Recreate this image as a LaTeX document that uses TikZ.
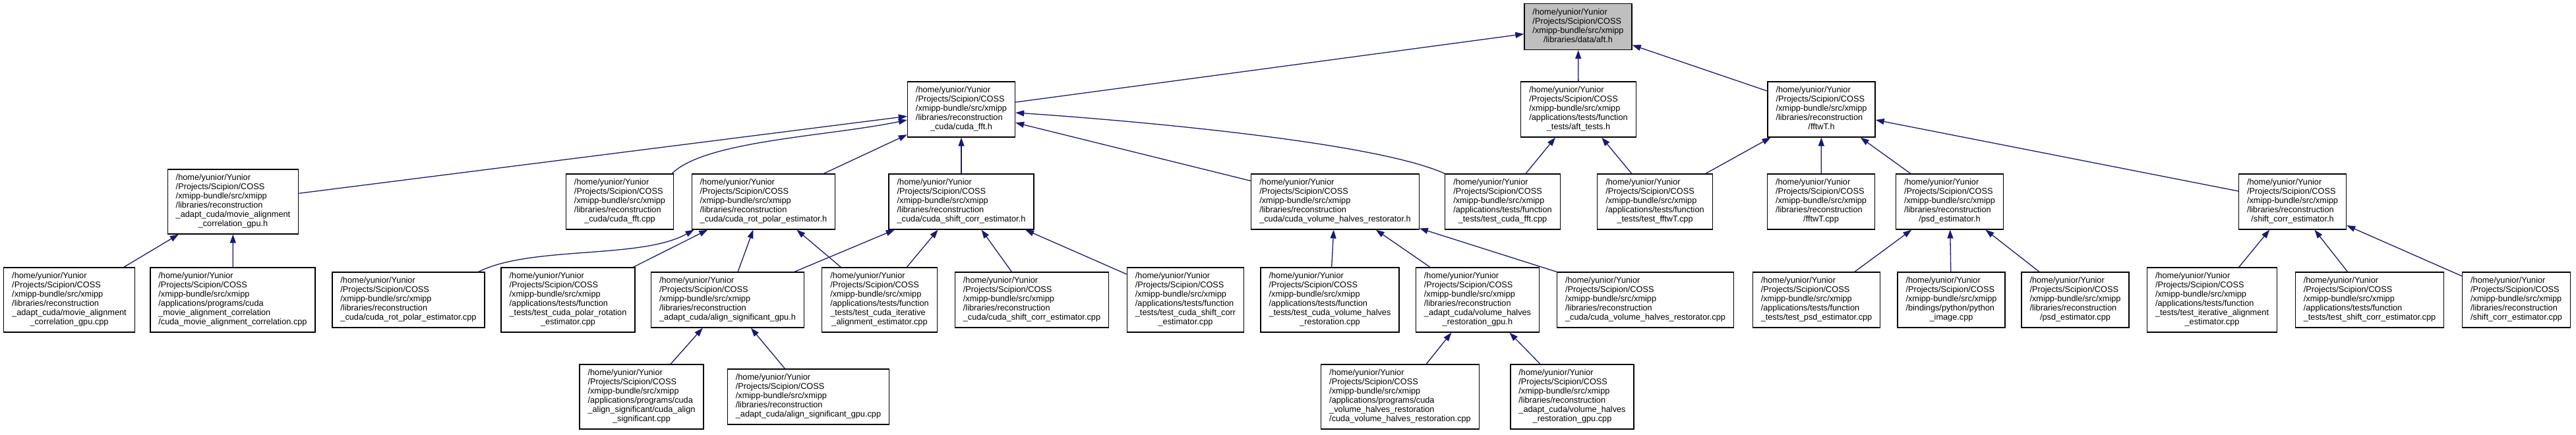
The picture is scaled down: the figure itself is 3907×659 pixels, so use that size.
\documentclass[tikz,border=0pt]{standalone}
\usepackage{fontspec}
\setmainfont{Liberation Sans}
\usetikzlibrary{arrows.meta}
\definecolor{EdgeNavy}{HTML}{191970}
\definecolor{RootGrey}{HTML}{BFBFBF}
\newcommand{\xroot}{/home/yunior/Yunior\\/Projects/Scipion/COSS\\/xmipp-bundle/src/xmipp}
\newcommand{\lastln}[1]{\multicolumn{1}{@{}c@{}}{#1}}
\newcommand{\fpath}[1]{\begin{tabular}{@{}l@{}}\xroot\\#1\end{tabular}}
\tikzset{
  filebox/.style={
    rectangle, draw=black, line width=1.3pt, fill=white,
    inner xsep=12.5pt, inner ysep=7pt,
    font=\fontsize{12.74pt}{14pt}\selectfont
  },
  rootbox/.style={filebox, fill=RootGrey},
  incl/.style={
    -{Triangle[length=13pt, width=9pt]},
    draw=EdgeNavy, line width=1.3pt
  }
}

\begin{document}
\begin{tikzpicture}[x=1pt, y=-1pt]

\useasboundingbox (0,0) rectangle (3907,659);

% ── Root header ───────────────────────────────────────────────────────────────

\node[rootbox] (aft) at (2393.5,40.5) {\fpath{\lastln{/libraries/data/aft.h}}};

% ── Direct includers ──────────────────────────────────────────────────────────

\node[filebox] (cffth) at (1458,166) {\fpath{/libraries/reconstruction\\\lastln{\_cuda/cuda\_fft.h}}};
\node[filebox] (afttests) at (2394,166) {\fpath{/applications/tests/function\\\lastln{\_tests/aft\_tests.h}}};
\node[filebox] (fftwth) at (2762.5,166) {\fpath{/libraries/reconstruction\\\lastln{/fftwT.h}}};

% ── Third row ─────────────────────────────────────────────────────────────────

\node[filebox] (moviegpuh) at (353.5,306) {\fpath{/libraries/reconstruction\\\_adapt\_cuda/movie\_alignment\\\lastln{\_correlation\_gpu.h}}};
\node[filebox] (cfftcpp) at (940,306) {\fpath{/libraries/reconstruction\\\lastln{\_cuda/cuda\_fft.cpp}}};
\node[filebox] (crotpolarh) at (1158,306) {\fpath{/libraries/reconstruction\\\lastln{\_cuda/cuda\_rot\_polar\_estimator.h}}};
\node[filebox] (cshifth) at (1458,306) {\fpath{/libraries/reconstruction\\\lastln{\_cuda/cuda\_shift\_corr\_estimator.h}}};
\node[filebox] (cvolh) at (2025,306) {\fpath{/libraries/reconstruction\\\lastln{\_cuda/cuda\_volume\_halves\_restorator.h}}};
\node[filebox] (tcfft) at (2279,306) {\fpath{/applications/tests/function\\\lastln{\_tests/test\_cuda\_fft.cpp}}};
\node[filebox] (tfftwt) at (2510,306) {\fpath{/applications/tests/function\\\lastln{\_tests/test\_fftwT.cpp}}};
\node[filebox] (fftwtcpp) at (2762,306) {\fpath{/libraries/reconstruction\\\lastln{/fftwT.cpp}}};
\node[filebox] (psdh) at (2957,306) {\fpath{/libraries/reconstruction\\\lastln{/psd\_estimator.h}}};
\node[filebox] (shifth) at (3477,306) {\fpath{/libraries/reconstruction\\\lastln{/shift\_corr\_estimator.h}}};

% ── Fourth row ────────────────────────────────────────────────────────────────

\node[filebox] (moviegpucpp) at (105,455) {\fpath{/libraries/reconstruction\\\_adapt\_cuda/movie\_alignment\\\lastln{\_correlation\_gpu.cpp}}};
\node[filebox] (cmoviecpp) at (353,455) {\fpath{/applications/programs/cuda\\\_movie\_alignment\_correlation\\\lastln{/cuda\_movie\_alignment\_correlation.cpp}}};
\node[filebox] (crotpolarcpp) at (619.5,455) {\fpath{/libraries/reconstruction\\\lastln{\_cuda/cuda\_rot\_polar\_estimator.cpp}}};
\node[filebox] (tcpolarrot) at (861.5,455) {\fpath{/applications/tests/function\\\_tests/test\_cuda\_polar\_rotation\\\lastln{\_estimator.cpp}}};
\node[filebox] (aligngpuh) at (1103.5,455) {\fpath{/libraries/reconstruction\\\lastln{\_adapt\_cuda/align\_significant\_gpu.h}}};
\node[filebox] (tciterative) at (1334,455) {\fpath{/applications/tests/function\\\_tests/test\_cuda\_iterative\\\lastln{\_alignment\_estimator.cpp}}};
\node[filebox] (cshiftcpp) at (1565,455) {\fpath{/libraries/reconstruction\\\lastln{\_cuda/cuda\_shift\_corr\_estimator.cpp}}};
\node[filebox] (tcshift) at (1798,455) {\fpath{/applications/tests/function\\\_tests/test\_cuda\_shift\_corr\\\lastln{\_estimator.cpp}}};
\node[filebox] (tcvolhalves) at (2017,455) {\fpath{/applications/tests/function\\\_tests/test\_cuda\_volume\_halves\\\lastln{\_restoration.cpp}}};
\node[filebox] (volgpuh) at (2241,455) {\fpath{/libraries/reconstruction\\\_adapt\_cuda/volume\_halves\\\lastln{\_restoration\_gpu.h}}};
\node[filebox] (cvolcpp) at (2495.5,455) {\fpath{/libraries/reconstruction\\\lastln{\_cuda/cuda\_volume\_halves\_restorator.cpp}}};
\node[filebox] (tpsd) at (2755,455) {\fpath{/applications/tests/function\\\lastln{\_tests/test\_psd\_estimator.cpp}}};
\node[filebox] (pyimage) at (2959.5,455) {\fpath{/bindings/python/python\\\lastln{\_image.cpp}}};
\node[filebox] (psdcpp) at (3147.5,455) {\fpath{/libraries/reconstruction\\\lastln{/psd\_estimator.cpp}}};
\node[filebox] (titerative) at (3355,455) {\fpath{/applications/tests/function\\\_tests/test\_iterative\_alignment\\\lastln{\_estimator.cpp}}};
\node[filebox] (tshift) at (3594,455) {\fpath{/applications/tests/function\\\lastln{\_tests/test\_shift\_corr\_estimator.cpp}}};
\node[filebox] (shiftcpp) at (3816.5,455) {\fpath{/libraries/reconstruction\\\lastln{/shift\_corr\_estimator.cpp}}};

% ── Bottom row ────────────────────────────────────────────────────────────────

\node[filebox] (calignsig) at (973,602) {\fpath{/applications/programs/cuda\\\_align\_significant/cuda\_align\\\lastln{\_significant.cpp}}};
\node[filebox] (aligngpucpp) at (1226,602) {\fpath{/libraries/reconstruction\\\lastln{\_adapt\_cuda/align\_significant\_gpu.cpp}}};
\node[filebox] (cvolrestcpp) at (2123.5,602) {\fpath{/applications/programs/cuda\\\_volume\_halves\_restoration\\\lastln{/cuda\_volume\_halves\_restoration.cpp}}};
\node[filebox] (volgpucpp) at (2384.5,602) {\fpath{/libraries/reconstruction\\\_adapt\_cuda/volume\_halves\\\lastln{\_restoration\_gpu.cpp}}};

% ── Include edges (includer -> included) ──────────────────────────────────────

\draw[incl] (cffth) -- (aft);
\draw[incl] (afttests) -- (aft);
\draw[incl] (fftwth) -- (aft);

\draw[incl] (moviegpuh) -- (cffth);
\draw[incl] ([xshift=-3pt]cfftcpp.north east) .. controls +(50,-50) and +(-120,25) .. ([yshift=-16pt]cffth.west);
\draw[incl] (crotpolarh) -- (cffth);
\draw[incl] (cshifth) -- (cffth);
\draw[incl] (cvolh) -- (cffth);
\draw[incl] (tcfft.north west) .. controls +(-110,-50) and +(150,10) .. ([yshift=-5pt]cffth.east);
\draw[incl] (tcfft) -- (afttests);
\draw[incl] (tfftwt) -- (afttests);
\draw[incl] (tfftwt) -- (fftwth);
\draw[incl] (fftwtcpp) -- (fftwth);
\draw[incl] (psdh) -- (fftwth);
\draw[incl] (shifth) -- (fftwth);

\draw[incl] (moviegpucpp) -- (moviegpuh);
\draw[incl] (cmoviecpp) -- (moviegpuh);
\draw[incl] ([xshift=-10pt]crotpolarcpp.north east) .. controls +(80,-40) and +(-80,45) .. ([xshift=4pt]crotpolarh.south west);
\draw[incl] (tcpolarrot) -- (crotpolarh);
\draw[incl] (aligngpuh) -- (crotpolarh);
\draw[incl] (tciterative) -- (crotpolarh);
\draw[incl] (aligngpuh) -- (cshifth);
\draw[incl] (tciterative) -- (cshifth);
\draw[incl] (cshiftcpp) -- (cshifth);
\draw[incl] (tcshift) -- (cshifth);
\draw[incl] (tcvolhalves) -- (cvolh);
\draw[incl] (volgpuh) -- (cvolh);
\draw[incl] (cvolcpp) -- (cvolh);
\draw[incl] (tpsd) -- (psdh);
\draw[incl] (pyimage) -- (psdh);
\draw[incl] (psdcpp) -- (psdh);
\draw[incl] (titerative) -- (shifth);
\draw[incl] (tshift) -- (shifth);
\draw[incl] (shiftcpp) -- (shifth);

\draw[incl] (calignsig) -- (aligngpuh);
\draw[incl] (aligngpucpp) -- (aligngpuh);
\draw[incl] (cvolrestcpp) -- (volgpuh);
\draw[incl] (volgpucpp) -- (volgpuh);

\end{tikzpicture}
\end{document}
